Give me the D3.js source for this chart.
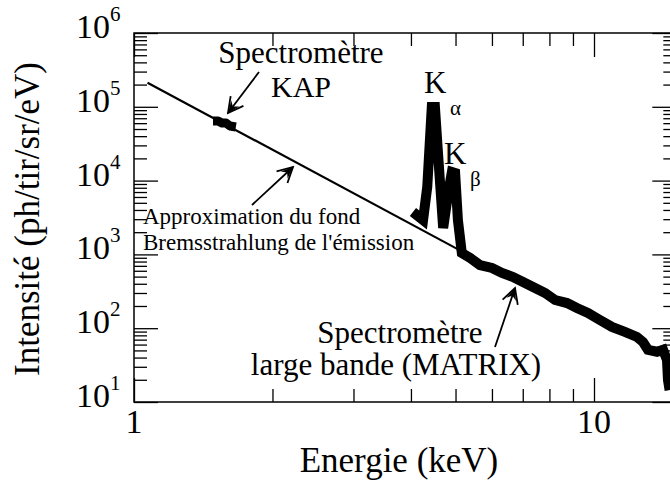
<!DOCTYPE html>
<html>
<head>
<meta charset="utf-8">
<script src="https://cdn.jsdelivr.net/npm/d3@7"></script>
<style>
  body { margin: 0; background: #fff; }
  svg { display: block; }
  text { font-family: "Liberation Serif", "Times New Roman", serif; fill: #000; }
</style>
</head>
<body>
<script>
// donnees (energie en keV, intensite en ph/tir/sr/eV)
const bremsE = [1.07, 5.16]
const bremsI = [2.12e5, 1100]

const kapE = [1.485, 1.523, 1.553, 1.585, 1.617, 1.665]
const kapI = [64200, 64200, 60300, 60300, 54900, 53200]

const matrixE = [4.04, 4.25, 4.34, 4.44, 4.51, 4.58, 4.70, 4.82, 4.91, 4.99, 5.06, 5.16,
  5.38, 5.65, 6.00, 6.31, 6.67, 7.01, 7.37, 7.83, 8.23, 8.74, 9.18, 9.70, 10.30, 10.94,
  11.67, 12.40, 12.78, 13.10, 13.71, 14.13, 14.41, 14.48, 14.6]
const matrixI = [3756, 2925, 8190, 99400, 99400, 23650, 2280, 6790, 13090, 12680, 2925, 1045,
  894, 718, 654, 560, 494, 423, 361, 300, 241, 219, 188, 161, 129, 104,
  89, 76, 65, 51, 48, 51, 37, 20, 14.5]

const xMajor = [1, 10]
const xMinor = [2, 3, 4, 5, 6, 7, 8, 9]
const yMajor = [1e1, 1e2, 1e3, 1e4, 1e5, 1e6]
const yExp = ['1', '2', '3', '4', '5', '6']
const yMinor = []
for (let p = 1; p < 6; p++) for (let k = 2; k < 10; k++) yMinor.push(k * Math.pow(10, p))

const W = 670, H = 481
const gauche = 134, haut = 33, bas = 402
const droite = gauche + 460 * Math.log10(15.1)

let svg = d3.select('body')
    .append('svg')
    .attr('width', W)
    .attr('height', H)

let x = d3.scaleLog().domain([1, 15.1]).range([gauche, droite])
let y = d3.scaleLog().domain([10, 1e6]).range([bas, haut])

// Axes (ticks vers l'interieur sur les quatre cotes)
function ticks(axis, g) {
    g.call(axis)
    g.select('.domain').remove()
    g.selectAll('line').attr('stroke', '#000').attr('stroke-width', 1.3)
}
let axes = svg.append('g')
ticks(d3.axisBottom(x).tickValues(xMajor).tickSize(-24).tickFormat(''), axes.append('g').attr('transform', `translate(0,${bas})`))
ticks(d3.axisBottom(x).tickValues(xMinor).tickSize(-13).tickFormat(''), axes.append('g').attr('transform', `translate(0,${bas})`))
ticks(d3.axisTop(x).tickValues(xMajor).tickSize(-24).tickFormat(''), axes.append('g').attr('transform', `translate(0,${haut})`))
ticks(d3.axisTop(x).tickValues(xMinor).tickSize(-13).tickFormat(''), axes.append('g').attr('transform', `translate(0,${haut})`))
ticks(d3.axisLeft(y).tickValues(yMajor).tickSize(-24).tickFormat(''), axes.append('g').attr('transform', `translate(${gauche},0)`))
ticks(d3.axisLeft(y).tickValues(yMinor).tickSize(-13).tickFormat(''), axes.append('g').attr('transform', `translate(${gauche},0)`))
ticks(d3.axisRight(y).tickValues(yMajor).tickSize(-24).tickFormat(''), axes.append('g').attr('transform', `translate(${droite},0)`))
ticks(d3.axisRight(y).tickValues(yMinor).tickSize(-13).tickFormat(''), axes.append('g').attr('transform', `translate(${droite},0)`))

svg.append('rect')
    .attr('x', gauche).attr('y', haut)
    .attr('width', droite - gauche).attr('height', bas - haut)
    .attr('fill', 'none').attr('stroke', '#000').attr('stroke-width', 1.5)

// Etiquettes
svg.append('g').selectAll('text')
    .data(xMajor)
    .enter()
    .append('text')
    .attr('x', d => x(d))
    .attr('y', 433)
    .attr('text-anchor', 'middle')
    .attr('font-size', 34)
    .text(d => d)

let yl = svg.append('g').selectAll('text')
    .data(yMajor)
    .enter()
    .append('text')
    .attr('x', 76)
    .attr('y', d => y(d) + 5)
    .attr('font-size', 34)
yl.append('tspan').text('10')
yl.append('tspan').attr('font-size', 21).attr('dy', -17).text((d, i) => yExp[i])

svg.append('text')
    .attr('x', 399).attr('y', 472)
    .attr('text-anchor', 'middle')
    .attr('font-size', 35)
    .text('Energie (keV)')

svg.append('text')
    .attr('transform', 'translate(39,219) rotate(-90)')
    .attr('text-anchor', 'middle')
    .attr('font-size', 35)
    .text('Intensité (ph/tir/sr/eV)')

// Courbes
let line = d3.line().x(d => x(d[0])).y(d => y(d[1]))

svg.append('path')
    .attr('d', line(bremsE.map((e, i) => [e, bremsI[i]])))
    .attr('fill', 'none').attr('stroke', '#000').attr('stroke-width', 2.2)

svg.append('path')
    .attr('d', line(kapE.map((e, i) => [e, kapI[i]])))
    .attr('fill', 'none').attr('stroke', '#000').attr('stroke-width', 9)
    .attr('stroke-linejoin', 'round')

svg.append('path')
    .attr('d', line(matrixE.map((e, i) => [e, matrixI[i]])))
    .attr('fill', 'none').attr('stroke', '#000').attr('stroke-width', 10)
    .attr('stroke-linejoin', 'miter').attr('stroke-miterlimit', 3)

// Annotations
let m = svg.append('defs').append('marker')
    .attr('id', 'fl')
    .attr('markerUnits', 'userSpaceOnUse')
    .attr('viewBox', '-18 -10 20 20')
    .attr('markerWidth', 20).attr('markerHeight', 20)
    .attr('refX', 0).attr('refY', 0)
    .attr('orient', 'auto')
m.append('path').attr('d', 'M-15,-8L0,0L-15,8').attr('fill', 'none').attr('stroke', '#000').attr('stroke-width', 1.8)
m.append('path').attr('d', 'M0,0L-12,-5L-8,0L-12,5Z').attr('fill', '#000')

function fleche(x1, y1, x2, y2) {
    svg.append('line')
        .attr('x1', x1).attr('y1', y1).attr('x2', x2).attr('y2', y2)
        .attr('stroke', '#000').attr('stroke-width', 1.8)
        .attr('marker-end', 'url(#fl)')
}
fleche(259, 72, 228, 113)
fleche(252, 205, 293, 167)
fleche(495, 347, 515, 288)

function texte(tx, ty, s, size, anchor) {
    svg.append('text')
        .attr('x', tx).attr('y', ty)
        .attr('font-size', size)
        .attr('text-anchor', anchor || 'start')
        .text(s)
}
texte(301, 63, 'Spectromètre', 31, 'middle')
texte(301, 97, 'KAP', 30, 'middle')
texte(143, 224, 'Approximation du fond', 23)
texte(143, 250, "Bremsstrahlung de l'émission", 23)
texte(400, 343, 'Spectromètre', 31, 'middle')
texte(396, 375, 'large bande (MATRIX)', 31, 'middle')
texte(424, 93, 'K', 31)
texte(450, 115, 'α', 21)
texte(444, 164, 'K', 31)
texte(470, 186, 'β', 21)
</script>
</body>
</html>
